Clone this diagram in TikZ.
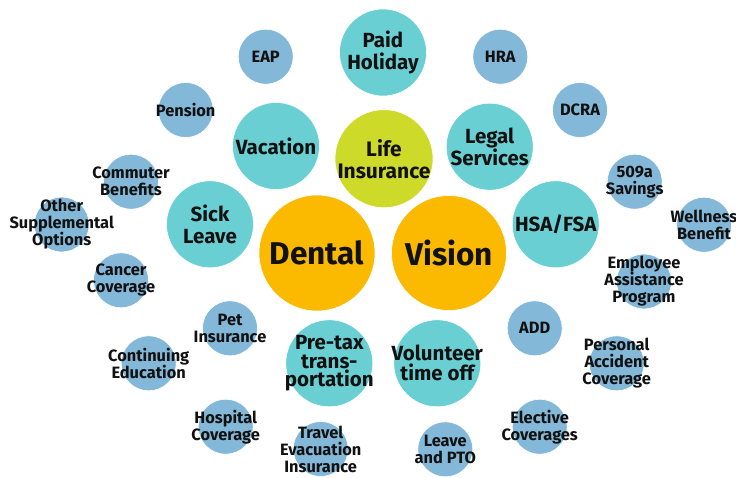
\documentclass[tikz,border=0pt]{standalone}
\usepackage{fontspec}
\setmainfont{Fira Sans}
\definecolor{sblue}{HTML}{84B8D8}
\definecolor{teal2}{HTML}{6ACFD3}
\definecolor{orng}{HTML}{FBB900}
\definecolor{lime2}{HTML}{CDDA29}
\definecolor{txt}{HTML}{111111}
\tikzset{
  sbub/.style={circle, fill=sblue, draw=white, line width=0.6pt, minimum size=55pt, inner sep=0pt},
  tbub/.style={circle, fill=teal2, draw=white, line width=0.6pt, minimum size=87pt, inner sep=0pt},
  stxt/.style={align=center, inner sep=0pt, text=txt, font=\bfseries\fontsize{16.4}{17}\selectfont},
  ttxt/.style={align=center, inner sep=0pt, text=txt, font=\bfseries\fontsize{20.5}{21.5}\selectfont},
  btxt/.style={align=center, inner sep=0pt, text=txt, font=\bfseries\fontsize{31.5}{34}\selectfont},
}
\begin{document}
\begin{tikzpicture}[x=1pt,y=-1pt]
\useasboundingbox (0,0) rectangle (736,477);
% small blue bubbles
\node[sbub, label={[stxt]center:EAP}] (eap) at (265.7,56.7) {};
\node[sbub, label={[stxt]center:Pension}] (pension) at (185.7,110) {};
\node[sbub, label={[stxt]center:Commuter\\Benefits}] (commuter) at (131,181.7) {};
\node[sbub, label={[stxt]center:Other\\Supplemental\\Options}] (other) at (61.7,224.5) {};
\node[sbub, label={[stxt]center:Cancer\\Coverage}] (cancer) at (121,280.3) {};
\node[sbub, label={[stxt]center:Pet\\Insurance}] (pet) at (230,328.3) {};
\node[sbub, label={[stxt]center:Continuing\\Education}] (cont) at (148.7,363.3) {};
\node[sbub, label={[stxt]center:Hospital\\Coverage}] (hosp) at (225.7,426.7) {};
\node[sbub, label={[stxt]center:Travel\\Evacuation\\Insurance}] (travel) at (320.7,449) {};
\node[sbub, label={[stxt]center:Leave\\and PTO}] (leave) at (445.3,449.3) {};
\node[sbub, label={[stxt]center:Elective\\Coverages}] (elective) at (539.7,426.7) {};
\node[sbub, label={[stxt]center:Personal\\Accident\\Coverage}] (personal) at (616.7,363.3) {};
\node[sbub, label={[stxt]center:ADD}] (add) at (534.7,328.3) {};
\node[sbub, label={[stxt]center:Employee\\Assistance\\Program}] (employee) at (644,281.5) {};
\node[sbub, label={[stxt]center:Wellness\\Benefit}] (wellness) at (704,224.7) {};
\node[sbub, label={[stxt]center:509a\\Savings}] (savings) at (634.7,181.7) {};
\node[sbub, label={[stxt]center:DCRA}] (dcra) at (580,110) {};
\node[sbub, label={[stxt]center:HRA}] (hra) at (500.3,56.7) {};
% teal bubbles
\node[tbub, label={[ttxt]center:Paid\\Holiday}] (paid) at (383,52.5) {};
\node[tbub, label={[ttxt]center:Vacation}] (vacation) at (276,146) {};
\node[tbub, label={[ttxt]center:Legal\\Services}] (legal) at (489.7,146.7) {};
\node[tbub, label={[ttxt]center:Sick\\Leave}] (sick) at (210,224.3) {};
\node[tbub, label={[ttxt]center:HSA/FSA}] (hsa) at (555.7,224.3) {};
\node[tbub, label={[ttxt, font=\bfseries\fontsize{20.5}{18.5}\selectfont]center:Pre-tax\\trans-\\portation}] (pretax) at (329.3,363.3) {};
\node[tbub, label={[ttxt, font=\bfseries\fontsize{20.5}{20}\selectfont]center:Volunteer\\time off}] (volunteer) at (437.3,363.3) {};
% life insurance
\node[circle, fill=lime2, draw=white, line width=0.6pt, minimum size=98pt, inner sep=0pt,
      label={[ttxt, font=\bfseries\fontsize{21}{22}\selectfont]center:Life\\Insurance}] (life) at (384,158.7) {};
% dental & vision
\node[circle, fill=orng, draw=white, line width=0.6pt, minimum size=116pt, inner sep=0pt,
      label={[btxt]center:Dental}] (dental) at (317,253) {};
\node[circle, fill=orng, draw=white, line width=0.6pt, minimum size=115pt, inner sep=0pt,
      label={[btxt]center:Vision}] (vision) at (449,253) {};
\end{tikzpicture}
\end{document}
